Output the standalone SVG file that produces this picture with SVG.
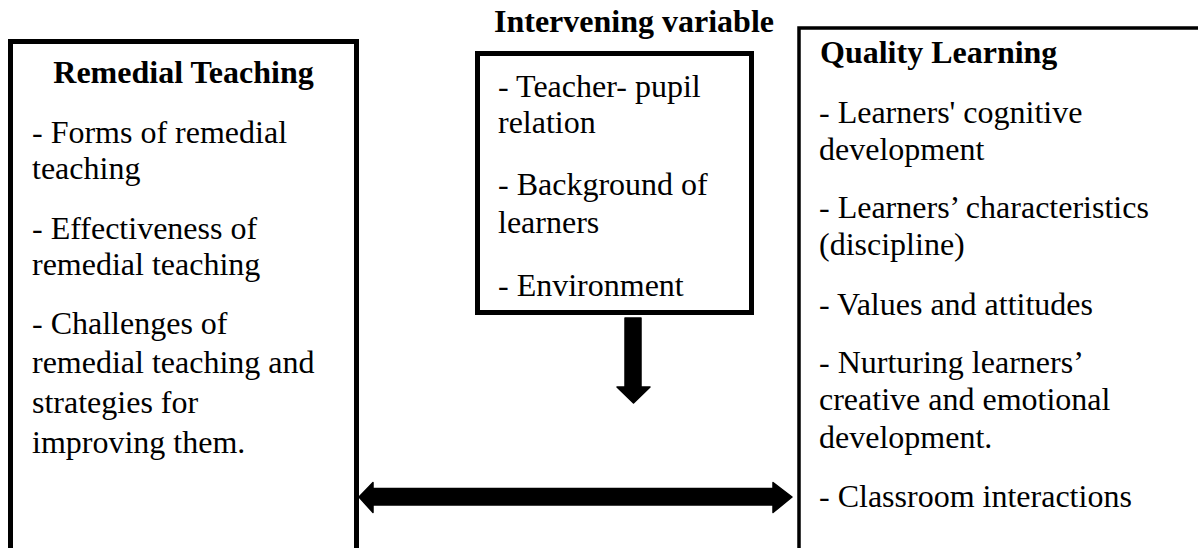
<svg xmlns="http://www.w3.org/2000/svg" width="1198" height="548" viewBox="0 0 1198 548">
<style>
.box{fill:#fff;stroke:#000}
.t{font-family:"Liberation Serif","Times New Roman",serif;font-size:32px;fill:#000}
.b{font-weight:bold}
.arr{fill:#000;stroke:#000;stroke-width:1.5;stroke-linejoin:round}
</style>
<rect width="1198" height="548" fill="#fff"/>
<g id="remedial-teaching">
<rect class="box" x="10.5" y="41.5" width="346" height="540" stroke-width="5"/>
<text class="t b" x="183.5" y="83" text-anchor="middle">Remedial Teaching</text>
<text class="t" x="32" y="143">- Forms of remedial</text>
<text class="t" x="32" y="179">teaching</text>
<text class="t" x="32" y="239">- Effectiveness of</text>
<text class="t" x="32" y="275">remedial teaching</text>
<text class="t" x="32" y="334">- Challenges of</text>
<text class="t" x="32" y="373">remedial teaching and</text>
<text class="t" x="32" y="413">strategies for</text>
<text class="t" x="32" y="453">improving them.</text>
</g>
<g id="intervening-variable">
<text class="t b" x="634" y="32" text-anchor="middle">Intervening variable</text>
<rect class="box" x="477.5" y="53.5" width="274" height="259" stroke-width="5"/>
<text class="t" x="498" y="97">- Teacher- pupil</text>
<text class="t" x="498" y="133">relation</text>
<text class="t" x="498" y="195">- Background of</text>
<text class="t" x="498" y="233">learners</text>
<text class="t" x="498" y="296">- Environment</text>
</g>
<g id="quality-learning">
<rect class="box" x="799" y="28" width="500" height="560" stroke-width="3.5"/>
<text class="t b" x="820" y="63">Quality Learning</text>
<text class="t" x="819" y="123">- Learners' cognitive</text>
<text class="t" x="819" y="160">development</text>
<text class="t" x="819" y="218">- Learners’ characteristics</text>
<text class="t" x="819" y="255">(discipline)</text>
<text class="t" x="819" y="315">- Values and attitudes</text>
<text class="t" x="819" y="373">- Nurturing learners’</text>
<text class="t" x="819" y="410">creative and emotional</text>
<text class="t" x="819" y="448">development.</text>
<text class="t" x="819" y="507">- Classroom interactions</text>
</g>
<g id="connectors">
<polygon class="arr" points="625,318 641,318 641,387 650,387 633.5,403 617,387 625,387"/>
<polygon class="arr" points="359,497 373,482.5 373,488.5 773,488.5 773,482.5 792,497 773,512.5 773,505 373,505 373,512.5"/>
</g>
</svg>
